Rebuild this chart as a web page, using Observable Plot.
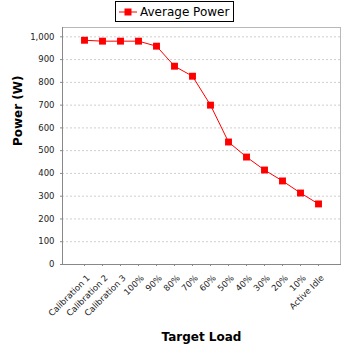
<!DOCTYPE html>
<html><head><meta charset="utf-8">
<script src="https://cdn.jsdelivr.net/npm/d3@7"></script>
<script src="https://cdn.jsdelivr.net/npm/@observablehq/plot@0.6"></script>
<style>
body{margin:0;background:#fff;}
#wrap{position:relative;width:348px;height:348px;font-family:"DejaVu Sans",sans-serif;background:#fff;}
#legend{position:absolute;left:115px;top:1px;height:19px;padding:0 4px 0 3px;border:1px solid #000;display:flex;align-items:center;font-size:12px;color:#000;background:#fff;}
#legend svg{margin-right:3px;}
#chart{position:absolute;left:0;top:0;}
</style></head>
<body><div id="wrap"><div id="chart"></div><div id="legend"></div></div>
<script>
const categories = ["Calibration 1","Calibration 2","Calibration 3","100%","90%","80%","70%","60%","50%","40%","30%","20%","10%","Active Idle"];
const powerValues = [985, 981, 981, 981, 959, 871, 827, 700, 538, 472, 415, 367, 314, 266];
const yTicks = [0,100,200,300,400,500,600,700,800,900,1000];
const seriesName = "Average Power";
const xLabel = "Target Load";
const yLabel = "Power (W)";

const data = categories.map((c,i)=>({cat:c, power:powerValues[i]}));
const red = "#ff0000";

// legend
const leg = document.getElementById("legend");
leg.innerHTML = `<svg width="18" height="10"><line x1="0" y1="5" x2="18" y2="5" stroke="${red}" stroke-width="1"/><rect x="5.5" y="1.5" width="7" height="7" fill="${red}"/></svg><span>${seriesName}</span>`;

const chart = Plot.plot({
  width: 348, height: 348,
  marginLeft: 62, marginRight: 8, marginTop: 27, marginBottom: 84,
  style: {fontFamily: "DejaVu Sans", background: "white", color: "#222"},
  x: {type: "point", domain: categories, padding: 1.16},
  y: {domain: [0, 1041]},
  marks: [
    Plot.gridY(yTicks, {stroke: "#cfcfcf", strokeOpacity: 1, strokeDasharray: "2,2"}),
    Plot.frame({stroke: "#b8b8b8"}),
    Plot.frame({anchor: "left", stroke: "#888"}),
    Plot.frame({anchor: "bottom", stroke: "#888"}),
    Plot.axisY(yTicks, {tickFormat: d3.format(","), tickSize: 2, tickPadding: 6, fontSize: 8.5, label: null, stroke: "#888", color: "#222"}),
    Plot.axisX({tickSize: 2, tickFormat: () => "", label: null, stroke: "#888"}),
    Plot.axisX({tickRotate: -45, tickSize: 0, tickPadding: 6, fontSize: 8.5, label: null, color: "#222", dx: 4, dy: 6}),
    Plot.line(data, {x: "cat", y: "power", stroke: red, strokeWidth: 1}),
    Plot.dot(data, {x: "cat", y: "power", symbol: "square", fill: red, r: 3.9}),
    Plot.text([yLabel], {frameAnchor: "left", dx: -44, rotate: -90, fontWeight: "bold", fontSize: 12, fill: "#000"}),
    Plot.text([xLabel], {frameAnchor: "bottom", dy: 76, fontWeight: "bold", fontSize: 12, fill: "#000"})
  ]
});
document.getElementById("chart").appendChild(chart);
</script>
</body></html>
